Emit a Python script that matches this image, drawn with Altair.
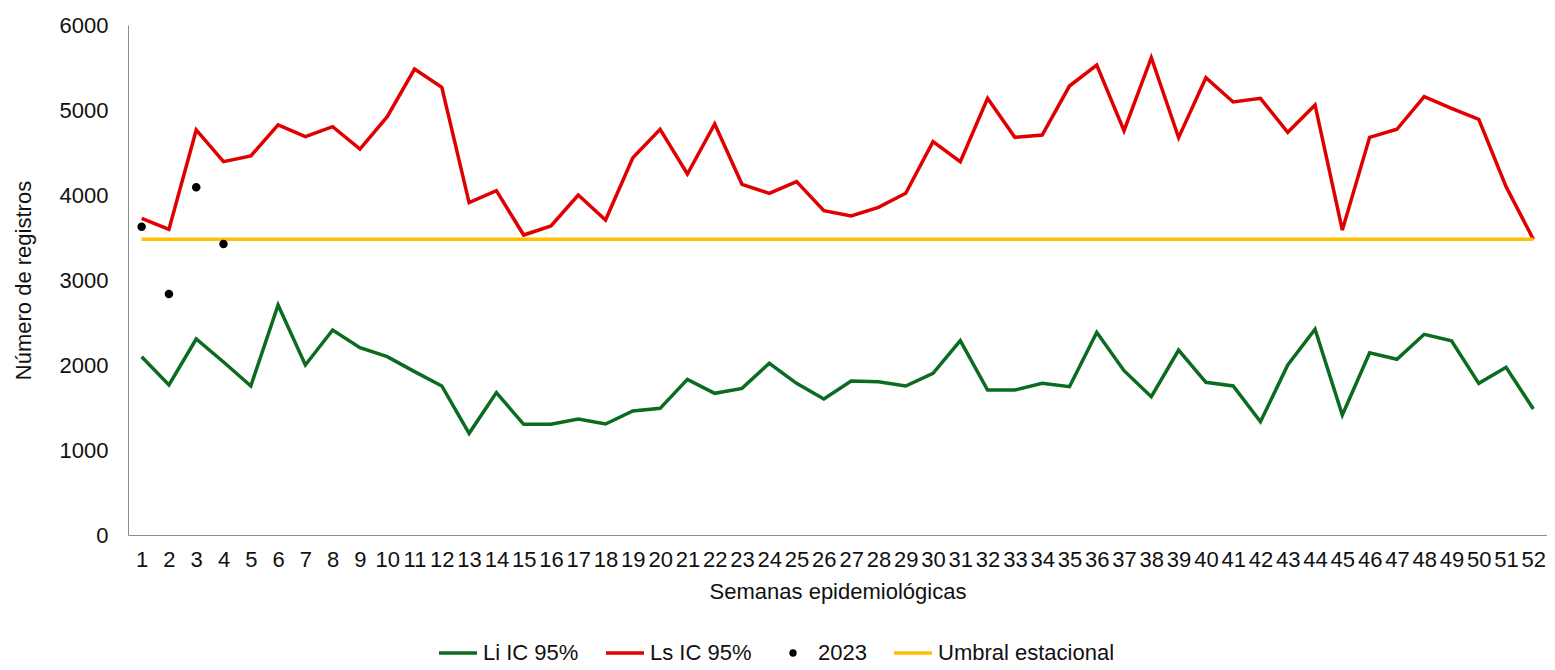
import altair as alt
import pandas as pd

weeks = list(range(1, 53))

li_ic = [2098, 1765, 2306, 2035, 1753, 2706, 2000, 2412, 2204, 2098,
         1922, 1753, 1196, 1675, 1302, 1302, 1365, 1306, 1459, 1490,
         1831, 1667, 1725, 2020, 1784, 1600, 1812, 1804, 1753, 1902,
         2286, 1706, 1706, 1784, 1745, 2384, 1933, 1627, 2176, 1796,
         1753, 1333, 2000, 2420, 1412, 2145, 2067, 2361, 2286, 1784,
         1973, 1482]

ls_ic = [3726, 3596, 4765, 4392, 4459, 4824, 4686, 4804, 4541, 4921,
         5482, 5267, 3910, 4051, 3529, 3635, 4000, 3706, 4439, 4773,
         4247, 4835, 4126, 4020, 4157, 3816, 3753, 3855, 4020, 4627,
         4392, 5137, 4678, 4706, 5282, 5529, 4757, 5616, 4675, 5380,
         5094, 5137, 4737, 5059, 3588, 4678, 4773, 5157, 5020, 4890,
         4098, 3478]

umbral = [3478] * 52

weeks_2023 = [1, 2, 3, 4]
values_2023 = [3627, 2835, 4090, 3424]

series_names = ["Li IC 95%", "Ls IC 95%", "2023", "Umbral estacional"]
series_colors = ["#0B6B1E", "#E00000", "#000000", "#FFC000"]
LINE_PATH = "M-1,0H1"
DOT_PATH = "M-0.1,0A0.1,0.1,0,1,1,0.1,0A0.1,0.1,0,1,1,-0.1,0Z"
series_shapes = [LINE_PATH, LINE_PATH, DOT_PATH, LINE_PATH]
series_widths = [3.5, 3.5, 1, 4]

lines_df = pd.concat([
    pd.DataFrame({"semana": weeks, "valor": li_ic, "serie": "Li IC 95%"}),
    pd.DataFrame({"semana": weeks, "valor": ls_ic, "serie": "Ls IC 95%"}),
    pd.DataFrame({"semana": weeks, "valor": umbral, "serie": "Umbral estacional"}),
])
points_df = pd.DataFrame({"semana": weeks_2023, "valor": values_2023, "serie": "2023"})

FONT = "Liberation Sans"

x_enc = alt.X("semana:O", title="Semanas epidemiológicas",
              scale=alt.Scale(domain=weeks),
              axis=alt.Axis(labelAngle=0, ticks=False, labelPadding=14,
                            titlePadding=11, labelFontSize=22, titleFontSize=22,
                            labelColor="#111111", titleColor="#111111",
                            domainColor="#8c8c8c", labelFont=FONT, titleFont=FONT,
                            titleFontWeight="normal", grid=False))
y_enc = alt.Y("valor:Q", title="Número de registros",
              scale=alt.Scale(domain=[0, 6000], nice=False),
              axis=alt.Axis(values=[0, 1000, 2000, 3000, 4000, 5000, 6000],
                            format="d", ticks=False, labelPadding=20, titlePadding=24,
                            labelFontSize=22, titleFontSize=22,
                            labelColor="#111111", titleColor="#111111",
                            domainColor="#8c8c8c", labelFont=FONT, titleFont=FONT,
                            titleFontWeight="normal", grid=False))

color_scale = alt.Scale(domain=series_names, range=series_colors)
shape_scale = alt.Scale(domain=series_names, range=series_shapes)
legend = alt.Legend(title=None, orient="none", direction="horizontal",
                    legendX=309, legendY=607, labelFontSize=22, labelFont=FONT,
                    labelColor="#111111", symbolStrokeWidth=4, labelOffset=4,
                    columnPadding=20, symbolSize=1444, labelLimit=400)

lines = alt.Chart(lines_df).mark_line().encode(
    x=x_enc, y=y_enc,
    color=alt.Color("serie:N", scale=color_scale, legend=legend),
    strokeWidth=alt.StrokeWidth("serie:N", scale=alt.Scale(domain=series_names, range=series_widths), legend=None),
)

points = alt.Chart(points_df).mark_point(filled=True, opacity=1, size=7225, strokeWidth=0).encode(
    x=x_enc, y=y_enc,
    color=alt.Color("serie:N", scale=color_scale, legend=legend),
    stroke=alt.Stroke("serie:N", scale=color_scale, legend=legend),
    shape=alt.Shape("serie:N", scale=shape_scale, legend=legend),
)

chart = alt.layer(lines, points).properties(
    width=1419, height=510,
    autosize=alt.AutoSizeParams(type="none"),
    padding={"left": 120, "top": 17, "right": 0, "bottom": 135},
    background="white",
).configure_view(stroke=None)

chart.save("out.html", embed_options={"renderer": "svg", "actions": False})
